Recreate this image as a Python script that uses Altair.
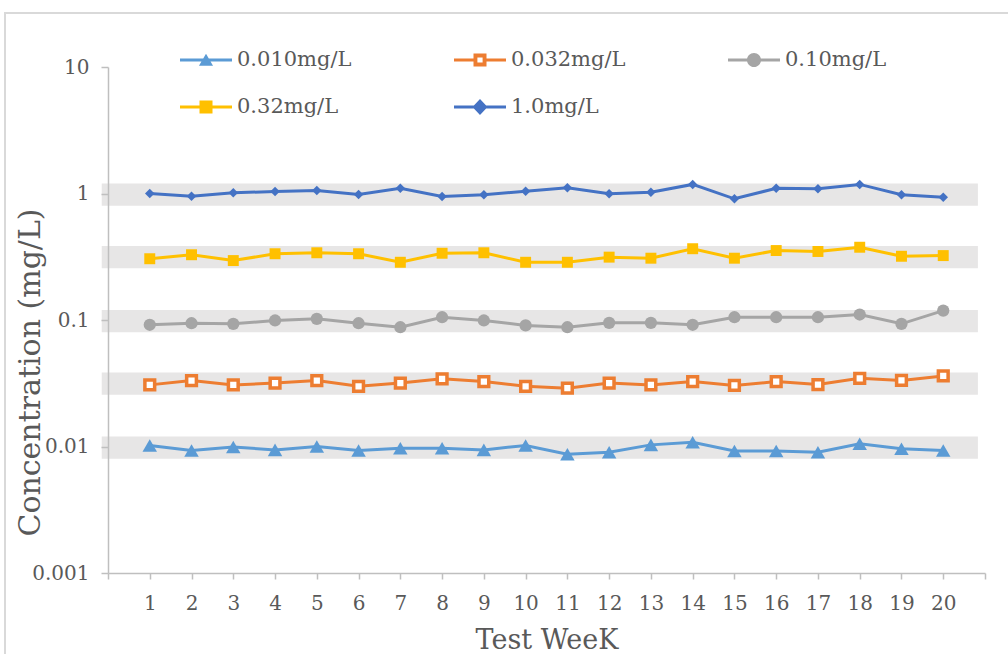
import altair as alt
import pandas as pd

# ---- data ----
weeks = list(range(1, 21))
series = ["0.010mg/L", "0.032mg/L", "0.10mg/L", "0.32mg/L", "1.0mg/L"]
c_0010 = [0.0102, 0.0093, 0.0099, 0.0094, 0.0100, 0.0093, 0.0097, 0.0097, 0.0094, 0.0102,
          0.0087, 0.0090, 0.0103, 0.0108, 0.0092, 0.0092, 0.0090, 0.0105, 0.0096, 0.0093]
c_0032 = [0.0307, 0.0332, 0.0307, 0.0317, 0.0332, 0.0299, 0.0317, 0.0343, 0.0326, 0.0299,
          0.0289, 0.0317, 0.0307, 0.0326, 0.0304, 0.0326, 0.0309, 0.0346, 0.0333, 0.0361]
c_010 = [0.0917, 0.0943, 0.0933, 0.0991, 0.1022, 0.0943, 0.0877, 0.1052, 0.0991, 0.0906,
         0.0877, 0.0950, 0.0950, 0.0917, 0.1052, 0.1052, 0.1052, 0.1105, 0.0933, 0.1187]
c_032 = [0.305, 0.328, 0.295, 0.334, 0.340, 0.334, 0.286, 0.337, 0.340, 0.286,
         0.286, 0.314, 0.308, 0.366, 0.308, 0.354, 0.348, 0.376, 0.319, 0.323]
c_10 = [1.00, 0.952, 1.013, 1.037, 1.056, 0.982, 1.10, 0.947, 0.977, 1.043,
        1.11, 0.995, 1.024, 1.18, 0.908, 1.10, 1.09, 1.18, 0.977, 0.935]
band_lo = [0.008, 0.0256, 0.08, 0.256, 0.8]
band_hi = [0.012, 0.0384, 0.12, 0.384, 1.2]
y_ticks = [0.001, 0.01, 0.1, 1, 10]

values = [c_0010, c_0032, c_010, c_032, c_10]
rows = []
for s, vals in zip(series, values):
    for w, v in zip(weeks, vals):
        rows.append({"series": s, "week": w, "value": v})
df = pd.DataFrame(rows)
bands = pd.DataFrame({"series": series, "lo": band_lo, "hi": band_hi,
                      "x0": [-0.15] * 5, "x1": [20.83] * 5})

# ---- styles ----
colors = ["#5B9BD5", "#ED7D31", "#A5A5A5", "#FFC000", "#4472C4"]
shapes = ["triangle-up", "square", "circle", "square", "diamond"]
sizes = [210, 90, 220, 230, 250]
OPEN = "0.032mg/L"

LINE = "M-1,-0.058H1V0.058H-1Z"
legend_paths = [
    LINE + "M0,-0.24L0.27,0.22L-0.27,0.22Z",
    "M-1,-0.058H-0.25V0.058H-1Z M0.25,-0.058H1V0.058H0.25Z "
    "M-0.25,-0.25H0.25V0.25H-0.25Z M-0.1,-0.1V0.1H0.1V-0.1Z",
    LINE + "M-0.27,0A0.27,0.27,0,1,1,0.27,0A0.27,0.27,0,1,1,-0.27,0Z",
    LINE + "M-0.25,-0.25H0.25V0.25H-0.25Z",
    LINE + "M0,-0.31L0.29,0L0,0.31L-0.29,0Z",
]

FONT = "DejaVu Serif"
TXT = "#595959"
AX = "#BFBFBF"

x_scale = alt.Scale(domain=[0, 21], nice=False, zero=False)
x_enc = alt.X(
    "week:Q",
    scale=x_scale,
    axis=alt.Axis(
        values=list(range(0, 22)),
        labelExpr="datum.value < 1 || datum.value > 20 ? '' : datum.label",
        grid=False, domainColor=AX, domainWidth=1.5, tickColor=AX, tickWidth=1.5,
        tickSize=6, labelFont=FONT, labelFontSize=20, labelColor=TXT,
        labelPadding=14, labelFlush=False, labelOverlap=False,
        title="Test WeeK", titleFont=FONT, titleFontSize=27, titleFontWeight="normal",
        titleColor=TXT, titleY=75, titleBaseline="alphabetic",
    ),
)
y_scale = alt.Scale(type="log", domain=[0.001, 10], nice=False)
y_enc = alt.Y(
    "value:Q",
    scale=y_scale,
    axis=alt.Axis(
        values=y_ticks, format="~g", grid=False, domainColor=AX, domainWidth=1.5,
        tickColor=AX, tickWidth=1.5, tickSize=7, labelFont=FONT, labelFontSize=20,
        labelColor=TXT, labelPadding=12, labelFlush=False, zindex=1,
        title="Concentration (mg/L)", titleFont=FONT, titleFontSize=30,
        titleFontWeight="normal", titleColor=TXT, titleX=-78, titleY=305,
        titleAngle=270, titleAlign="center", titleBaseline="middle",
    ),
)

frame = alt.Chart(pd.DataFrame({"k": [0]})).mark_rect(
    fill="transparent", stroke="#D9D9D9", strokeWidth=2
).encode(x=alt.value(-103), x2=alt.value(1000), y=alt.value(-54), y2=alt.value(700))

band_layer = alt.Chart(bands).mark_rect(color="#E7E6E6").encode(
    x=alt.X("x0:Q", scale=x_scale),
    x2="x1:Q",
    y=alt.Y("lo:Q", scale=y_scale),
    y2="hi:Q",
)

lines = alt.Chart(df).mark_line(strokeWidth=3).encode(
    x=x_enc, y=y_enc,
    stroke=alt.Stroke("series:N", scale=alt.Scale(domain=series, range=colors), legend=None),
    detail="series:N",
)

filled_points = alt.Chart(df).transform_filter(
    alt.datum.series != OPEN
).mark_point(filled=True, opacity=1, strokeWidth=0).encode(
    x=x_enc, y=y_enc,
    shape=alt.Shape("series:N", scale=alt.Scale(domain=series, range=shapes), legend=None),
    fill=alt.Fill("series:N", scale=alt.Scale(domain=series, range=colors), legend=None),
    size=alt.Size("series:N", scale=alt.Scale(domain=series, range=sizes), legend=None),
)

open_points = alt.Chart(df).transform_filter(
    alt.datum.series == OPEN
).mark_point(shape="square", fill="#FFFFFF", fillOpacity=1, stroke="#ED7D31",
             strokeWidth=3.5, size=95, opacity=1).encode(x=x_enc, y=y_enc)

legend_layer = alt.Chart(df).mark_point(filled=True, opacity=0, size=2704).encode(
    x=x_enc, y=y_enc,
    shape=alt.Shape("series:N", sort=series,
                    scale=alt.Scale(domain=series, range=legend_paths),
                    legend=alt.Legend(title=None)),
    fill=alt.Fill("series:N", sort=series,
                  scale=alt.Scale(domain=series, range=colors),
                  legend=alt.Legend(title=None)),
)

chart = alt.layer(frame, band_layer, lines, filled_points, open_points, legend_layer).resolve_scale(
    shape="independent", fill="independent"
).properties(
    width=877, height=506,
    autosize=alt.AutoSizeParams(type="none"),
    padding={"left": 108, "top": 67, "right": 23, "bottom": 81},
).configure_view(stroke=None).configure_legend(
    orient="none", legendX=72, legendY=-33, columns=3, direction="horizontal",
    columnPadding=102, rowPadding=11, padding=0, labelOffset=5, symbolSize=2704,
    symbolStrokeWidth=0, symbolOpacity=1, labelFont=FONT, labelFontSize=21,
    labelColor=TXT, labelLimit=400,
)

chart.save("out.html", embed_options={"renderer": "svg", "actions": False})
